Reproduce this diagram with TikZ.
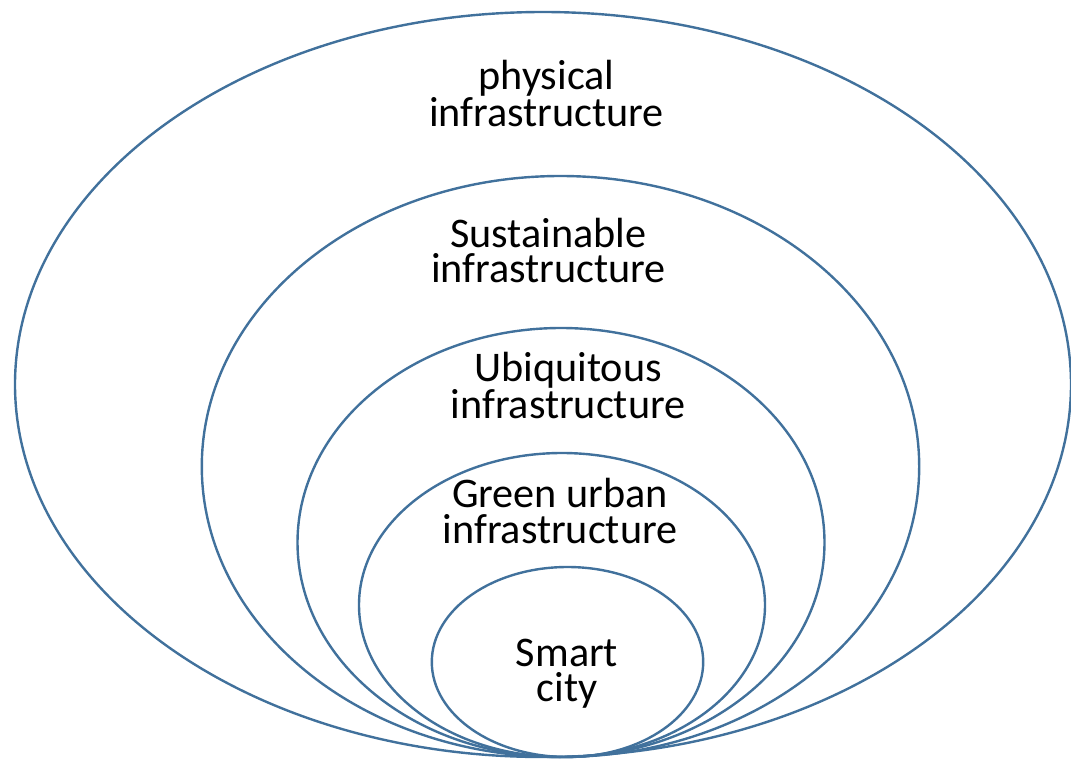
\documentclass[tikz,border=0pt]{standalone}
\usepackage{fontspec}
\setmainfont{Carlito}
\definecolor{ringblue}{HTML}{41719C}
\begin{document}
\begin{tikzpicture}[x=1pt,y=-1pt,
  ring/.style={draw=ringblue,line width=2.4pt},
  lbl/.style={align=center,inner sep=0pt,font=\fontsize{42.2}{35.3}\selectfont,anchor=base}]
\useasboundingbox (0,0) rectangle (1071,760);
\draw[ring] (543,384.5) ellipse [x radius=528pt,y radius=372.5pt];
\draw[ring] (560.5,466.5) ellipse [x radius=358.7pt,y radius=290.5pt];
\draw[ring] (561,542.5) ellipse [x radius=263.5pt,y radius=214.5pt];
\draw[ring] (562,605) ellipse [x radius=203pt,y radius=152pt];
\draw[ring] (567.5,662) ellipse [x radius=135.7pt,y radius=95pt];
\node[lbl] (phys) at (546.5,126) {physical\\infrastructure};
\node[lbl] (sust) at (548.5,282.5) {Sustainable\\infrastructure};
\node[lbl] (ubiq) at (568,418) {Ubiquitous\\infrastructure};
\node[lbl] (green) at (560,543) {Green urban\\infrastructure};
\node[lbl] (smart) at (567,701.5) {Smart\\city};
\end{tikzpicture}
\end{document}
